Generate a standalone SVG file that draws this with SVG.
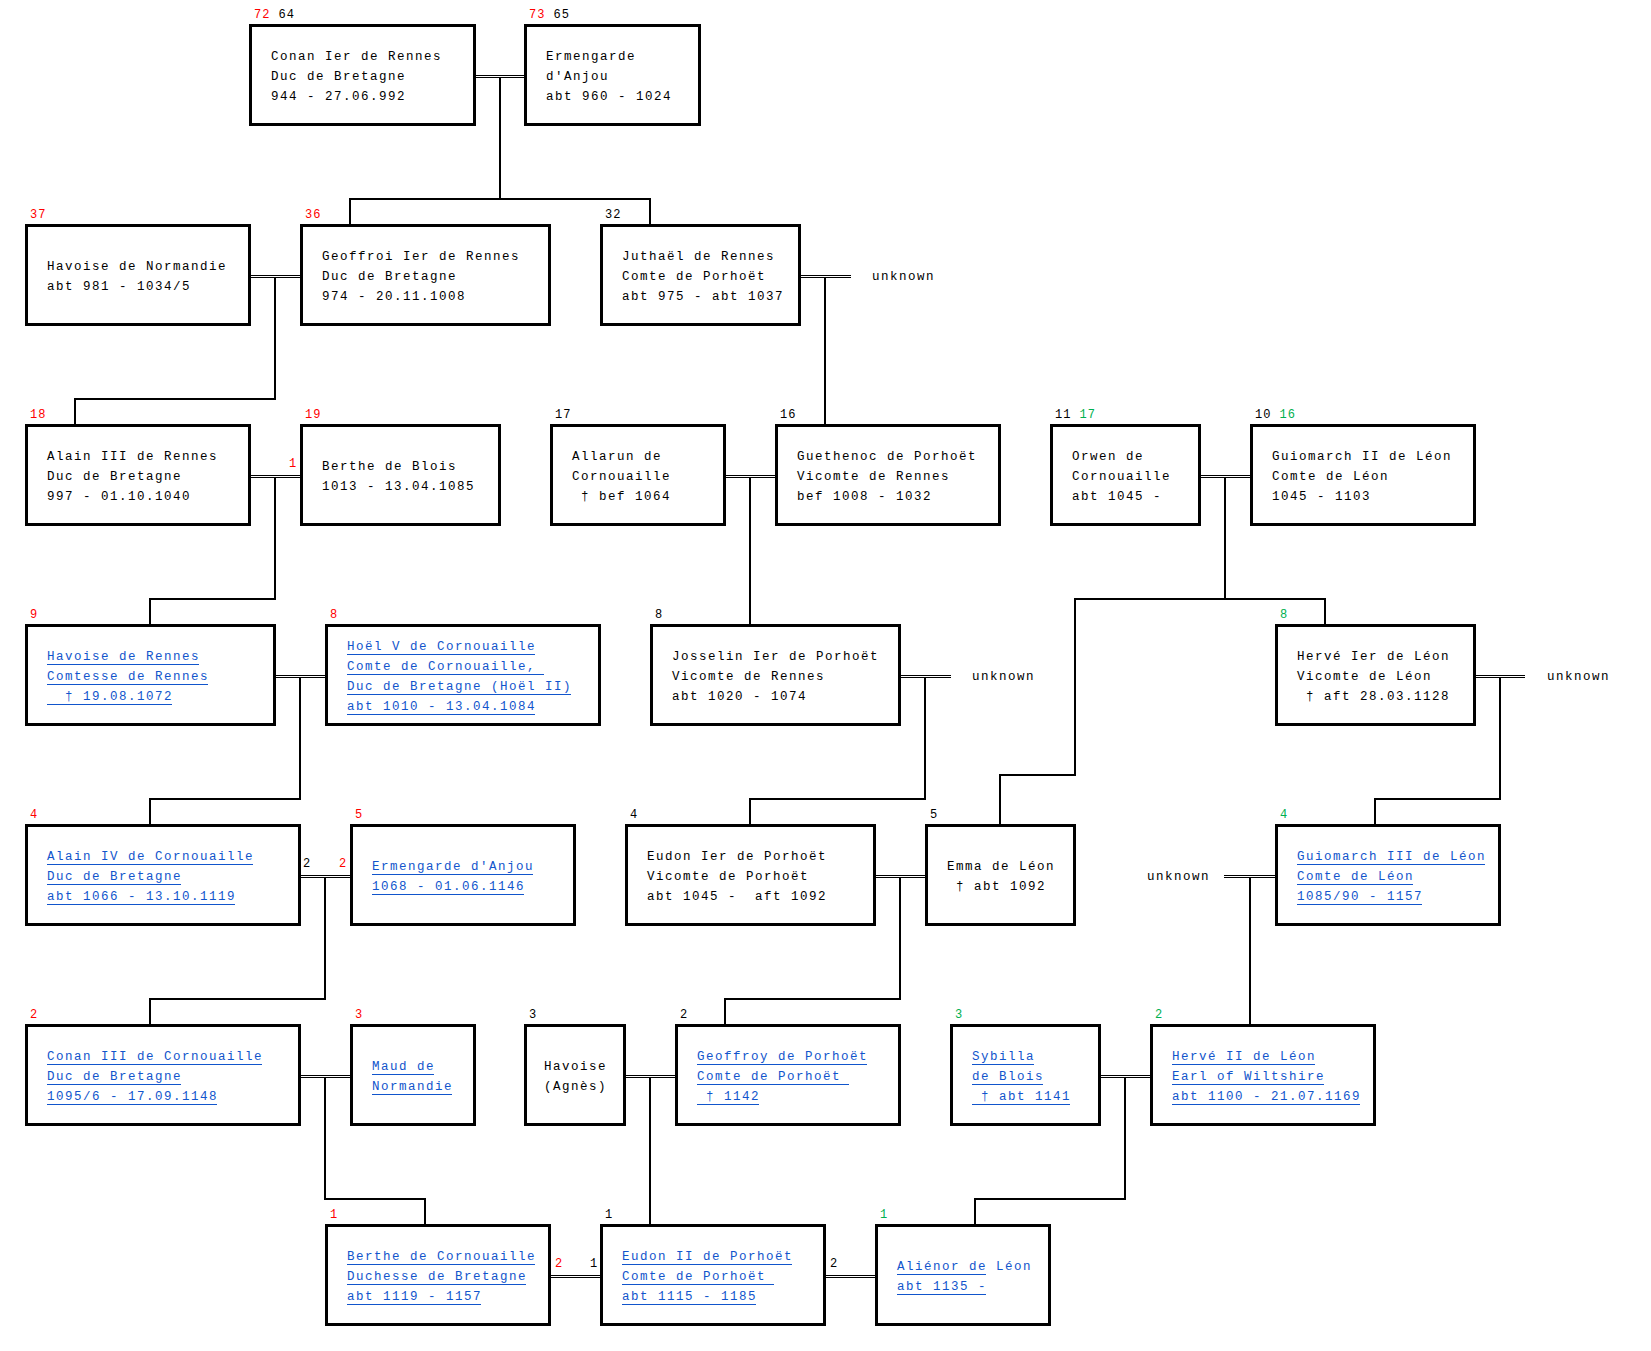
<svg xmlns="http://www.w3.org/2000/svg" width="1651" height="1351" viewBox="0 0 1651 1351">
<style>
.box{fill:#fff;stroke:#000;stroke-width:3}
.t{font-family:"Liberation Mono",monospace;font-size:12.5px;letter-spacing:1.5px;fill:#000}
.lk{fill:#1155cc}
.n{font-family:"Liberation Mono",monospace;font-size:12px;letter-spacing:1px;fill:#000}
.r{fill:#f00}
.g{fill:#00b050}
.dl{stroke:#000;stroke-width:1;fill:none}
.cn{stroke:#000;stroke-width:2;fill:none}
.u{stroke:#1155cc;stroke-width:1;fill:none}
</style>
<rect width="1651" height="1351" fill="#fff"/>
<g id="connectors">
<path class="dl" d="M476 75.5H524M476 77.5H524 M251 275.5H300M251 277.5H300 M801 275.5H851M801 277.5H851 M251 475.5H300M251 477.5H300 M726 475.5H775M726 477.5H775 M1201 475.5H1250M1201 477.5H1250 M276 675.5H325M276 677.5H325 M901 675.5H951M901 677.5H951 M1476 675.5H1525M1476 677.5H1525 M301 875.5H350M301 877.5H350 M876 875.5H925M876 877.5H925 M1224 875.5H1275M1224 877.5H1275 M301 1075.5H350M301 1077.5H350 M626 1075.5H675M626 1077.5H675 M1101 1075.5H1150M1101 1077.5H1150 M551 1275.5H600M551 1277.5H600 M826 1275.5H875M826 1277.5H875"/>
<path class="cn" d="M500 78V199 M350 224V199H650V224"/>
<path class="cn" d="M275 278V399H75V424"/>
<path class="cn" d="M825 278V424"/>
<path class="cn" d="M275 478V599H150V624"/>
<path class="cn" d="M750 478V624"/>
<path class="cn" d="M1225 478V599 M1325 624V599H1075V775H1000V824"/>
<path class="cn" d="M300 678V799H150V824"/>
<path class="cn" d="M925 678V799H750V824"/>
<path class="cn" d="M1500 678V799H1375V824"/>
<path class="cn" d="M325 878V999H150V1024"/>
<path class="cn" d="M900 878V999H725V1024"/>
<path class="cn" d="M1250 878V1024"/>
<path class="cn" d="M325 1078V1199H425V1224"/>
<path class="cn" d="M650 1078V1224"/>
<path class="cn" d="M1125 1078V1199H975V1224"/>
<text class="t" x="872" y="280">unknown</text>
<text class="t" x="972" y="680">unknown</text>
<text class="t" x="1547" y="680">unknown</text>
<text class="t" x="1147" y="880">unknown</text>
<text class="n r" x="289" y="467">1</text>
<text class="n" x="303" y="867">2</text>
<text class="n r" x="339" y="867">2</text>
<text class="n r" x="555" y="1267">2</text>
<text class="n" x="590" y="1267">1</text>
<text class="n" x="830" y="1267">2</text>
</g>
<g id="conan-ier-de-rennes">
<rect class="box" x="250.5" y="25.5" width="224" height="99"/>
<text class="n" x="254" y="18"><tspan class="r">72</tspan> 64</text>
<text class="t" x="271" y="60">Conan Ier de Rennes</text>
<text class="t" x="271" y="80">Duc de Bretagne</text>
<text class="t" x="271" y="100">944 - 27.06.992</text>
</g>
<g id="ermengarde-d-anjou-960">
<rect class="box" x="525.5" y="25.5" width="174" height="99"/>
<text class="n" x="529" y="18"><tspan class="r">73</tspan> 65</text>
<text class="t" x="546" y="60">Ermengarde</text>
<text class="t" x="546" y="80">d'Anjou</text>
<text class="t" x="546" y="100">abt 960 - 1024</text>
</g>
<g id="havoise-de-normandie">
<rect class="box" x="26.5" y="225.5" width="223" height="99"/>
<text class="n r" x="30" y="218">37</text>
<text class="t" x="47" y="270">Havoise de Normandie</text>
<text class="t" x="47" y="290">abt 981 - 1034/5</text>
</g>
<g id="geoffroi-ier-de-rennes">
<rect class="box" x="301.5" y="225.5" width="248" height="99"/>
<text class="n r" x="305" y="218">36</text>
<text class="t" x="322" y="260">Geoffroi Ier de Rennes</text>
<text class="t" x="322" y="280">Duc de Bretagne</text>
<text class="t" x="322" y="300">974 - 20.11.1008</text>
</g>
<g id="juthael-de-rennes">
<rect class="box" x="601.5" y="225.5" width="198" height="99"/>
<text class="n" x="605" y="218">32</text>
<text class="t" x="622" y="260">Juthaël de Rennes</text>
<text class="t" x="622" y="280">Comte de Porhoët</text>
<text class="t" x="622" y="300">abt 975 - abt 1037</text>
</g>
<g id="alain-iii-de-rennes">
<rect class="box" x="26.5" y="425.5" width="223" height="99"/>
<text class="n r" x="30" y="418">18</text>
<text class="t" x="47" y="460">Alain III de Rennes</text>
<text class="t" x="47" y="480">Duc de Bretagne</text>
<text class="t" x="47" y="500">997 - 01.10.1040</text>
</g>
<g id="berthe-de-blois">
<rect class="box" x="301.5" y="425.5" width="198" height="99"/>
<text class="n r" x="305" y="418">19</text>
<text class="t" x="322" y="470">Berthe de Blois</text>
<text class="t" x="322" y="490">1013 - 13.04.1085</text>
</g>
<g id="allarun-de-cornouaille">
<rect class="box" x="551.5" y="425.5" width="173" height="99"/>
<text class="n" x="555" y="418">17</text>
<text class="t" x="572" y="460">Allarun de</text>
<text class="t" x="572" y="480">Cornouaille</text>
<text class="t" x="572" y="500" xml:space="preserve"> † bef 1064</text>
</g>
<g id="guethenoc-de-porhoet">
<rect class="box" x="776.5" y="425.5" width="223" height="99"/>
<text class="n" x="780" y="418">16</text>
<text class="t" x="797" y="460">Guethenoc de Porhoët</text>
<text class="t" x="797" y="480">Vicomte de Rennes</text>
<text class="t" x="797" y="500">bef 1008 - 1032</text>
</g>
<g id="orwen-de-cornouaille">
<rect class="box" x="1051.5" y="425.5" width="148" height="99"/>
<text class="n" x="1055" y="418">11 <tspan class="g">17</tspan></text>
<text class="t" x="1072" y="460">Orwen de</text>
<text class="t" x="1072" y="480">Cornouaille</text>
<text class="t" x="1072" y="500">abt 1045 -</text>
</g>
<g id="guiomarch-ii-de-leon">
<rect class="box" x="1251.5" y="425.5" width="223" height="99"/>
<text class="n" x="1255" y="418">10 <tspan class="g">16</tspan></text>
<text class="t" x="1272" y="460">Guiomarch II de Léon</text>
<text class="t" x="1272" y="480">Comte de Léon</text>
<text class="t" x="1272" y="500">1045 - 1103</text>
</g>
<g id="havoise-de-rennes">
<rect class="box" x="26.5" y="625.5" width="248" height="99"/>
<text class="n r" x="30" y="618">9</text>
<text class="t lk" x="47" y="660">Havoise de Rennes</text>
<text class="t lk" x="47" y="680">Comtesse de Rennes</text>
<text class="t lk" x="47" y="700" xml:space="preserve">  † 19.08.1072</text>
<path class="u" d="M47 664.5h152M47 684.5h161M47 704.5h125"/>
</g>
<g id="hoel-v-de-cornouaille">
<rect class="box" x="326.5" y="625.5" width="273" height="99"/>
<text class="n r" x="330" y="618">8</text>
<text class="t lk" x="347" y="650">Hoël V de Cornouaille</text>
<text class="t lk" x="347" y="670" xml:space="preserve">Comte de Cornouaille, </text>
<text class="t lk" x="347" y="690">Duc de Bretagne (Hoël II)</text>
<text class="t lk" x="347" y="710">abt 1010 - 13.04.1084</text>
<path class="u" d="M347 654.5h188M347 674.5h197M347 694.5h224M347 714.5h188"/>
</g>
<g id="josselin-ier-de-porhoet">
<rect class="box" x="651.5" y="625.5" width="248" height="99"/>
<text class="n" x="655" y="618">8</text>
<text class="t" x="672" y="660">Josselin Ier de Porhoët</text>
<text class="t" x="672" y="680">Vicomte de Rennes</text>
<text class="t" x="672" y="700">abt 1020 - 1074</text>
</g>
<g id="herve-ier-de-leon">
<rect class="box" x="1276.5" y="625.5" width="198" height="99"/>
<text class="n g" x="1280" y="618">8</text>
<text class="t" x="1297" y="660">Hervé Ier de Léon</text>
<text class="t" x="1297" y="680">Vicomte de Léon</text>
<text class="t" x="1297" y="700" xml:space="preserve"> † aft 28.03.1128</text>
</g>
<g id="alain-iv-de-cornouaille">
<rect class="box" x="26.5" y="825.5" width="273" height="99"/>
<text class="n r" x="30" y="818">4</text>
<text class="t lk" x="47" y="860">Alain IV de Cornouaille</text>
<text class="t lk" x="47" y="880">Duc de Bretagne</text>
<text class="t lk" x="47" y="900">abt 1066 - 13.10.1119</text>
<path class="u" d="M47 864.5h206M47 884.5h134M47 904.5h188"/>
</g>
<g id="ermengarde-d-anjou-1068">
<rect class="box" x="351.5" y="825.5" width="223" height="99"/>
<text class="n r" x="355" y="818">5</text>
<text class="t lk" x="372" y="870">Ermengarde d'Anjou</text>
<text class="t lk" x="372" y="890">1068 - 01.06.1146</text>
<path class="u" d="M372 874.5h161M372 894.5h152"/>
</g>
<g id="eudon-ier-de-porhoet">
<rect class="box" x="626.5" y="825.5" width="248" height="99"/>
<text class="n" x="630" y="818">4</text>
<text class="t" x="647" y="860">Eudon Ier de Porhoët</text>
<text class="t" x="647" y="880">Vicomte de Porhoët</text>
<text class="t" x="647" y="900" xml:space="preserve">abt 1045 -  aft 1092</text>
</g>
<g id="emma-de-leon">
<rect class="box" x="926.5" y="825.5" width="148" height="99"/>
<text class="n" x="930" y="818">5</text>
<text class="t" x="947" y="870">Emma de Léon</text>
<text class="t" x="947" y="890" xml:space="preserve"> † abt 1092</text>
</g>
<g id="guiomarch-iii-de-leon">
<rect class="box" x="1276.5" y="825.5" width="223" height="99"/>
<text class="n g" x="1280" y="818">4</text>
<text class="t lk" x="1297" y="860">Guiomarch III de Léon</text>
<text class="t lk" x="1297" y="880">Comte de Léon</text>
<text class="t lk" x="1297" y="900">1085/90 - 1157</text>
<path class="u" d="M1297 864.5h188M1297 884.5h116M1297 904.5h125"/>
</g>
<g id="conan-iii-de-cornouaille">
<rect class="box" x="26.5" y="1025.5" width="273" height="99"/>
<text class="n r" x="30" y="1018">2</text>
<text class="t lk" x="47" y="1060">Conan III de Cornouaille</text>
<text class="t lk" x="47" y="1080">Duc de Bretagne</text>
<text class="t lk" x="47" y="1100">1095/6 - 17.09.1148</text>
<path class="u" d="M47 1064.5h215M47 1084.5h134M47 1104.5h170"/>
</g>
<g id="maud-de-normandie">
<rect class="box" x="351.5" y="1025.5" width="123" height="99"/>
<text class="n r" x="355" y="1018">3</text>
<text class="t lk" x="372" y="1070">Maud de</text>
<text class="t lk" x="372" y="1090">Normandie</text>
<path class="u" d="M372 1074.5h62M372 1094.5h80"/>
</g>
<g id="havoise-agnes">
<rect class="box" x="525.5" y="1025.5" width="99" height="99"/>
<text class="n" x="529" y="1018">3</text>
<text class="t" x="544" y="1070">Havoise</text>
<text class="t" x="544" y="1090">(Agnès)</text>
</g>
<g id="geoffroy-de-porhoet">
<rect class="box" x="676.5" y="1025.5" width="223" height="99"/>
<text class="n" x="680" y="1018">2</text>
<text class="t lk" x="697" y="1060">Geoffroy de Porhoët</text>
<text class="t lk" x="697" y="1080" xml:space="preserve">Comte de Porhoët </text>
<text class="t lk" x="697" y="1100" xml:space="preserve"> † 1142</text>
<path class="u" d="M697 1064.5h170M697 1084.5h152M697 1104.5h62"/>
</g>
<g id="sybilla-de-blois">
<rect class="box" x="951.5" y="1025.5" width="148" height="99"/>
<text class="n g" x="955" y="1018">3</text>
<text class="t lk" x="972" y="1060">Sybilla</text>
<text class="t lk" x="972" y="1080">de Blois</text>
<text class="t lk" x="972" y="1100" xml:space="preserve"> † abt 1141</text>
<path class="u" d="M972 1064.5h62M972 1084.5h71M972 1104.5h98"/>
</g>
<g id="herve-ii-de-leon">
<rect class="box" x="1151.5" y="1025.5" width="223" height="99"/>
<text class="n g" x="1155" y="1018">2</text>
<text class="t lk" x="1172" y="1060">Hervé II de Léon</text>
<text class="t lk" x="1172" y="1080">Earl of Wiltshire</text>
<text class="t lk" x="1172" y="1100">abt 1100 - 21.07.1169</text>
<path class="u" d="M1172 1064.5h143M1172 1084.5h152M1172 1104.5h188"/>
</g>
<g id="berthe-de-cornouaille">
<rect class="box" x="326.5" y="1225.5" width="223" height="99"/>
<text class="n r" x="330" y="1218">1</text>
<text class="t lk" x="347" y="1260">Berthe de Cornouaille</text>
<text class="t lk" x="347" y="1280">Duchesse de Bretagne</text>
<text class="t lk" x="347" y="1300">abt 1119 - 1157</text>
<path class="u" d="M347 1264.5h188M347 1284.5h179M347 1304.5h134"/>
</g>
<g id="eudon-ii-de-porhoet">
<rect class="box" x="601.5" y="1225.5" width="223" height="99"/>
<text class="n" x="605" y="1218">1</text>
<text class="t lk" x="622" y="1260">Eudon II de Porhoët</text>
<text class="t lk" x="622" y="1280" xml:space="preserve">Comte de Porhoët </text>
<text class="t lk" x="622" y="1300">abt 1115 - 1185</text>
<path class="u" d="M622 1264.5h170M622 1284.5h152M622 1304.5h134"/>
</g>
<g id="alienor-de-leon">
<rect class="box" x="876.5" y="1225.5" width="173" height="99"/>
<text class="n g" x="880" y="1218">1</text>
<text class="t lk" x="897" y="1270">Aliénor de Léon</text>
<text class="t lk" x="897" y="1290">abt 1135 -</text>
<path class="u" d="M897 1274.5h89M897 1294.5h89"/>
</g>
</svg>
